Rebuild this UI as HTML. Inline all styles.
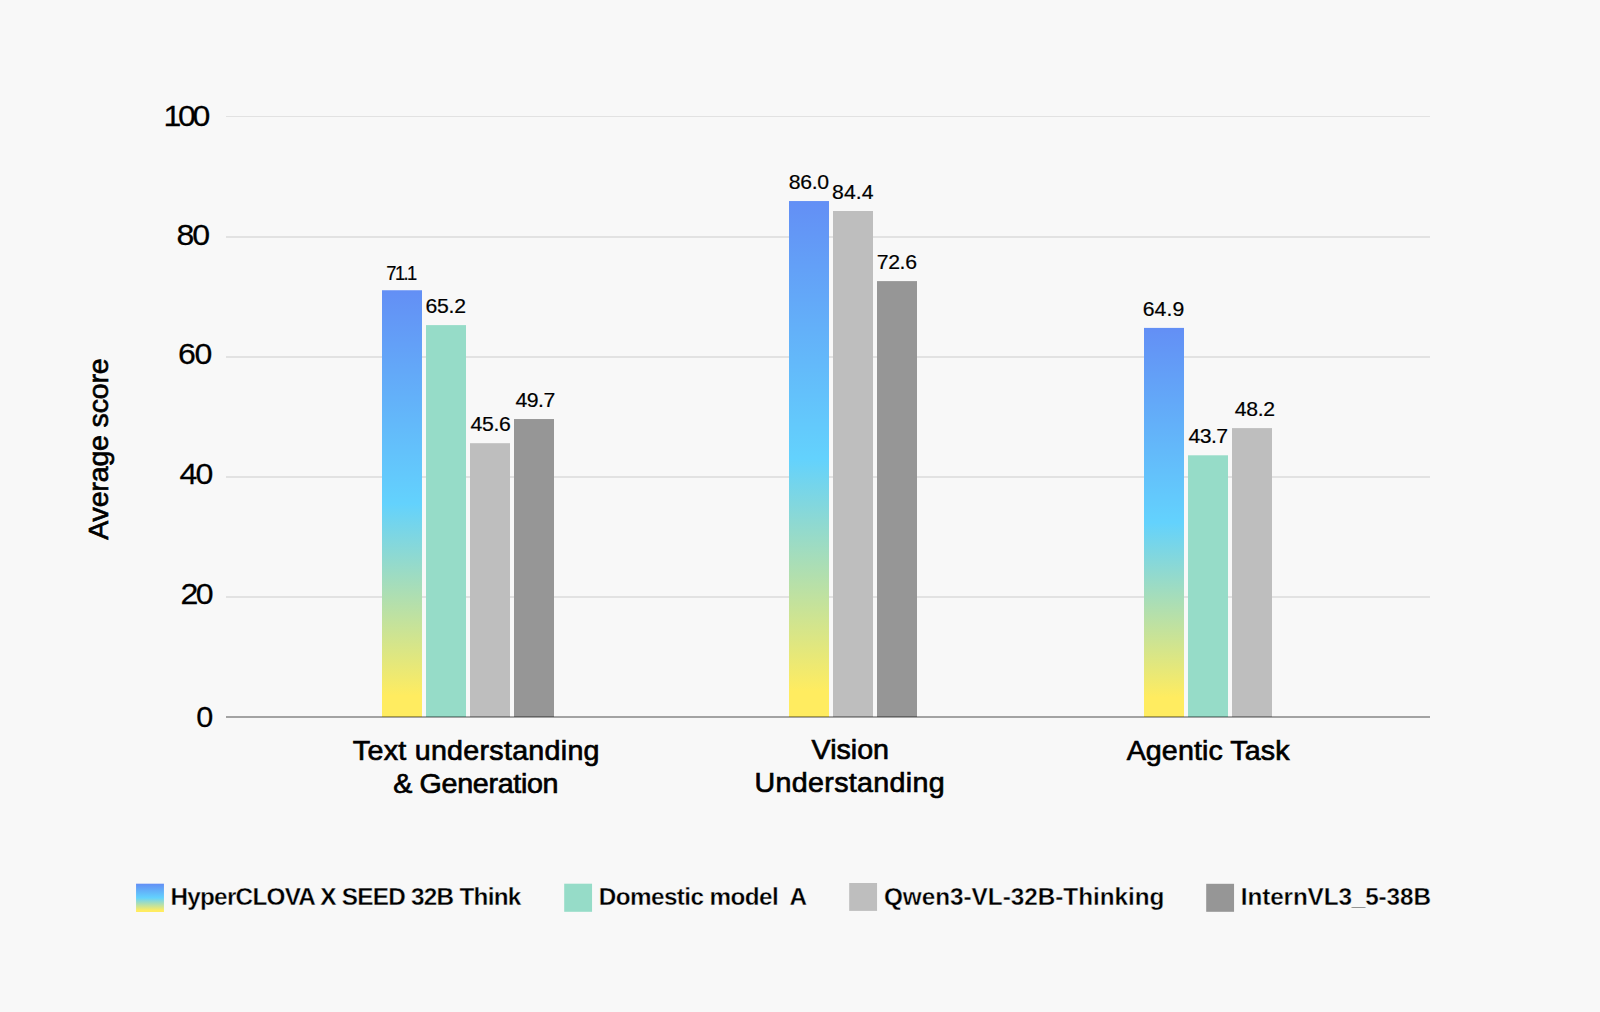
<!DOCTYPE html>
<html lang="en">
<head>
<meta charset="utf-8">
<title>Average score by task</title>
<style>
html,body{margin:0;padding:0;background:#f8f8f8;}
body{width:1600px;height:1012px;overflow:hidden;}
svg{display:block;}
text{font-family:"Liberation Sans",sans-serif;fill:#000;white-space:pre;}
.yt{font-size:30.0px;font-weight:normal;stroke:#000;stroke-width:0.25px;}
.vl{font-size:20.4px;font-weight:normal;stroke:#000;stroke-width:0.2px;}
.xl{font-size:26.9px;font-weight:normal;stroke:#000;stroke-width:0.65px;}
.lg{font-size:24.3px;font-weight:bold;stroke:#f8f8f8;stroke-width:0.35px;}
</style>
</head>
<body>
<svg width="1600" height="1012" viewBox="0 0 1600 1012">
<defs>
<linearGradient id="g" x1="0" y1="0" x2="0" y2="1">
<stop offset="0" stop-color="#638ff5"/>
<stop offset="0.5" stop-color="#63d2fd"/>
<stop offset="0.95" stop-color="#ffec60"/>
<stop offset="1" stop-color="#ffec60"/>
</linearGradient>
</defs>
<rect width="1600" height="1012" fill="#f8f8f8"/>
<g id="grid" fill="#e2e2e2">
<rect x="226" y="116" width="1204" height="1"/>
<rect x="226" y="236" width="1204" height="2"/>
<rect x="226" y="356" width="1204" height="2"/>
<rect x="226" y="476" width="1204" height="2"/>
<rect x="226" y="596" width="1204" height="2"/>
</g>
<g id="bars">
<rect x="382" y="290.25" width="40" height="426.75" fill="url(#g)"/>
<rect x="426" y="325.1" width="40" height="391.9" fill="#96dcc8"/>
<rect x="470" y="443.2" width="40" height="273.8" fill="#bebebe"/>
<rect x="514" y="419.05" width="40" height="297.95" fill="#969696"/>
<rect x="789" y="201.05" width="40" height="515.95" fill="url(#g)"/>
<rect x="833" y="211" width="40" height="506" fill="#bebebe"/>
<rect x="877" y="281.1" width="40" height="435.9" fill="#969696"/>
<rect x="1144" y="327.9" width="40" height="389.1" fill="url(#g)"/>
<rect x="1188" y="455.3" width="40" height="261.7" fill="#96dcc8"/>
<rect x="1232" y="428.1" width="40" height="288.9" fill="#bebebe"/>
</g>
<rect id="axis" x="226" y="716" width="1204" height="2" fill="#000" fill-opacity="0.34"/>
<g id="labels">
<text id="t100" class="yt" xml:space="preserve" transform="translate(163.54 126.00) scale(1.07 1)" style="letter-spacing:-3.131px">100</text>
<text id="t80" class="yt" xml:space="preserve" transform="translate(176.40 245.00) scale(1.07 1)" style="letter-spacing:-1.832px">80</text>
<text id="t60" class="yt" xml:space="preserve" transform="translate(178.09 364.00) scale(1.07 1)" style="letter-spacing:-1.355px">60</text>
<text id="t40" class="yt" xml:space="preserve" transform="translate(179.58 484.00) scale(1.07 1)" style="letter-spacing:-1.822px">40</text>
<text id="t20" class="yt" xml:space="preserve" transform="translate(180.40 604.00) scale(1.07 1)" style="letter-spacing:-2.439px">20</text>
<text id="t0" class="yt" xml:space="preserve" transform="translate(196.36 727.00) scale(1.02 1)" style="letter-spacing:0.000px">0</text>
<text id="v711" class="vl" xml:space="preserve" transform="translate(386.30 280.00) scale(0.9 1)" style="letter-spacing:-1.807px">71.1</text>
<text id="v652" class="vl" xml:space="preserve" transform="translate(425.44 313.00) scale(1.04 1)" style="letter-spacing:-0.208px">65.2</text>
<text id="v456" class="vl" xml:space="preserve" transform="translate(470.57 431.00) scale(1.04 1)" style="letter-spacing:-0.356px">45.6</text>
<text id="v497" class="vl" xml:space="preserve" transform="translate(515.53 407.00) scale(1.04 1)" style="letter-spacing:-0.503px">49.7</text>
<text id="v860" class="vl" xml:space="preserve" transform="translate(788.71 189.00) scale(1.04 1)" style="letter-spacing:-0.269px">86.0</text>
<text id="v844" class="vl" xml:space="preserve" transform="translate(832.11 199.00) scale(1.04 1)" style="letter-spacing:0.026px">84.4</text>
<text id="v726" class="vl" xml:space="preserve" transform="translate(876.67 269.00) scale(1.04 1)" style="letter-spacing:-0.304px">72.6</text>
<text id="v649" class="vl" xml:space="preserve" transform="translate(1142.74 316.00) scale(1.04 1)" style="letter-spacing:0.054px">64.9</text>
<text id="v437" class="vl" xml:space="preserve" transform="translate(1188.42 443.00) scale(1.04 1)" style="letter-spacing:-0.535px">43.7</text>
<text id="v482" class="vl" xml:space="preserve" transform="translate(1234.66 416.00) scale(1.04 1)" style="letter-spacing:-0.279px">48.2</text>
<text id="x1a" class="xl" xml:space="preserve" transform="translate(352.86 760.00) scale(1.065 1)" style="letter-spacing:0.264px">Text understanding</text>
<text id="x1b" class="xl" xml:space="preserve" transform="translate(393.17 793.00) scale(1.065 1)" style="letter-spacing:-0.283px">&amp; Generation</text>
<text id="x2a" class="xl" xml:space="preserve" transform="translate(811.60 759.00) scale(1.065 1)" style="letter-spacing:-0.008px">Vision</text>
<text id="x2b" class="xl" xml:space="preserve" transform="translate(754.57 792.00) scale(1.065 1)" style="letter-spacing:0.303px">Understanding</text>
<text id="x3a" class="xl" xml:space="preserve" transform="translate(1126.68 760.00) scale(1.065 1)" style="letter-spacing:0.085px">Agentic Task</text>
<text id="l1" class="lg" xml:space="preserve" transform="translate(170.40 905.00) scale(1.0 1)" style="letter-spacing:-0.732px">HyperCLOVA X SEED 32B Think</text>
<text id="l2" class="lg" xml:space="preserve" transform="translate(598.80 905.00) scale(1.0 1)" style="letter-spacing:-0.591px">Domestic model  A</text>
<text id="l3" class="lg" xml:space="preserve" transform="translate(883.94 905.00) scale(1.0 1)" style="letter-spacing:-0.013px">Qwen3-VL-32B-Thinking</text>
<text id="l4" class="lg" xml:space="preserve" transform="translate(1240.80 905.00) scale(1.0 1)" style="letter-spacing:-0.114px">InternVL3_5-38B</text>
<text id="ytitle" class="xl" transform="translate(108.30 539.83) rotate(-90) scale(1.065 1)" style="letter-spacing:-0.198px">Average score</text>
</g>
<g id="legend">
<rect x="136.05" y="883.7" width="27.9" height="28.3" fill="url(#g)"/>
<rect x="564.2" y="883.7" width="27.85" height="28.1" fill="#96dcc8"/>
<rect x="849.2" y="883.0" width="27.85" height="27.9" fill="#bebebe"/>
<rect x="1206.2" y="883.8" width="27.85" height="28.0" fill="#969696"/>
</g>
</svg>
</body>
</html>
